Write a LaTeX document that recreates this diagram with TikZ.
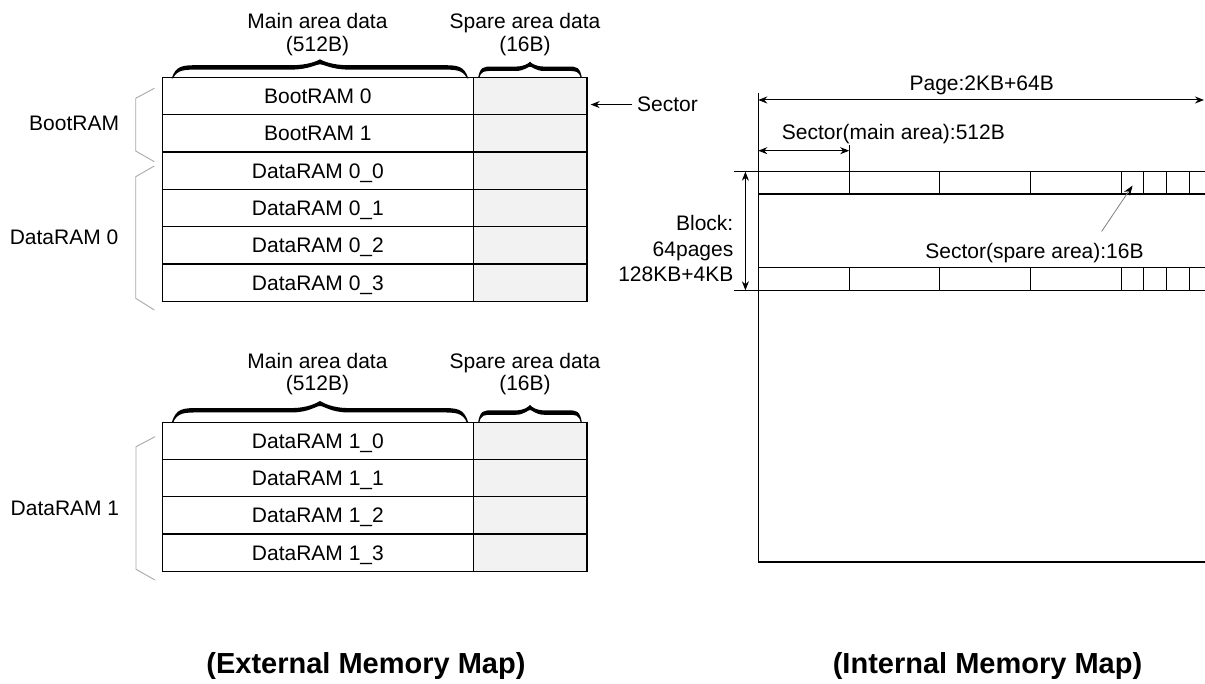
\documentclass[tikz,border=0pt]{standalone}
\usepackage{fontspec}
\setmainfont{Liberation Sans}
\usetikzlibrary{arrows.meta}
\definecolor{spare}{HTML}{F2F2F2}
\definecolor{bracketgray}{HTML}{A8A8A8}
\definecolor{pointergray}{HTML}{808080}
\newcommand\calbrace[5]{% x0 x1 ybase ytip curl
  \pgfmathsetmacro\bA{#1}\pgfmathsetmacro\bB{#2}\pgfmathsetmacro\bM{(#1+#2)/2}
  \pgfmathsetmacro\bY{#3}\pgfmathsetmacro\bT{#4}\pgfmathsetmacro\bC{#5}
  \pgfmathsetmacro\bS{#3-0.58*(#3-#4)}
  \fill (\bA,\bY)
   .. controls (\bA+0.15*\bC,\bS-2.2) and (\bA+0.4*\bC,\bS-2.2) .. (\bA+\bC,\bS-2.2)
   -- (\bM-\bC,\bS-2.2)
   .. controls (\bM-0.45*\bC,\bS-2.2) and (\bM-0.12*\bC,\bT+2) .. (\bM,\bT)
   .. controls (\bM+0.12*\bC,\bT+2) and (\bM+0.45*\bC,\bS-2.2) .. (\bM+\bC,\bS-2.2)
   -- (\bB-\bC,\bS-2.2)
   .. controls (\bB-0.4*\bC,\bS-2.2) and (\bB-0.15*\bC,\bS-2.2) .. (\bB,\bY)
   -- (\bB-1.2,\bY)
   .. controls (\bB-0.2*\bC,\bS+2.2) and (\bB-0.45*\bC,\bS+2.2) .. (\bB-\bC,\bS+2.2)
   -- (\bM+\bC,\bS+2.2)
   .. controls (\bM+0.4*\bC,\bS+2.2) and (\bM+0.1*\bC,\bT+4.5) .. (\bM,\bT+5)
   .. controls (\bM-0.1*\bC,\bT+4.5) and (\bM-0.4*\bC,\bS+2.2) .. (\bM-\bC,\bS+2.2)
   -- (\bA+\bC,\bS+2.2)
   .. controls (\bA+0.45*\bC,\bS+2.2) and (\bA+0.2*\bC,\bS+2.2) .. (\bA+1.2,\bY)
   -- cycle;}
\begin{document}
\begin{tikzpicture}[x=1pt,y=-1pt,
  every node/.style={inner sep=0pt, font=\fontsize{21}{22.5}\selectfont},
  cell/.style={draw=black, line width=1.3pt, text height=15pt, text depth=0pt},
  maincell/.style={cell, minimum width=310.8pt},
  sparecell/.style={cell, minimum width=113.7pt, fill=spare},
  grp/.style={draw=bracketgray, line width=0.9pt},
  hdr/.style={align=center, anchor=north},
  grplabel/.style={anchor=base east},
  title/.style={anchor=base, font=\fontsize{29}{32}\selectfont\bfseries},
  dim/.style={line width=1pt, {Stealth[length=9pt,width=7pt]}-{Stealth[length=9pt,width=7pt]}},
  rowline/.style={line width=1.2pt},
  tick/.style={line width=1pt}
]
\fill[white] (0,0) rectangle (1205,684);
\useasboundingbox (0,0) rectangle (1205,684);

% ---------- External memory map, table 1 ----------
\node[hdr] (h1main) at (317.5,13.3) {Main area data\\(512B)};
\node[hdr] (h1spare) at (525,13.3) {Spare area data\\(16B)};
\calbrace{171.7}{468.3}{78.5}{59.3}{28}
\calbrace{478}{582}{78.5}{61.7}{14}
\foreach \name/\txt [count=\i from 0] in {b0/BootRAM 0, b1/BootRAM 1, d00/DataRAM 0\_0, d01/DataRAM 0\_1, d02/DataRAM 0\_2, d03/DataRAM 0\_3}{
  \node[maincell, minimum height=37.33pt] (\name) at (317.9,{77.3+37.33*(\i+0.5)}) {\txt};
  \node[sparecell, minimum height=37.33pt] (s\name) at (530.15,{77.3+37.33*(\i+0.5)}) {};
}
\node[anchor=base west] (sec) at (637,111.8) {Sector};
\draw[line width=1pt,-{Stealth[length=9pt,width=7pt]}] ([xshift=-5pt]sec.west) -- ([xshift=3pt]sec.west -| sb0.east);

\draw[grp] (154.3,88.3) -- (135.7,98.3) -- (135.7,151) -- (154.3,161.7);
\draw[grp] (154.3,166) -- (135.7,176.7) -- (135.7,298.3) -- (154.3,310);
\node[grplabel] (lboot) at (119.3,130.8) {BootRAM};
\node[grplabel] (ld0) at (118.5,244.2) {DataRAM 0};

% ---------- External memory map, table 2 ----------
\node[hdr] (h2main) at (317.5,353) {Main area data\\(512B)};
\node[hdr] (h2spare) at (525,353) {Spare area data\\(16B)};
\calbrace{171.7}{468.3}{423}{401}{28}
\calbrace{478}{582}{423}{405}{14}
\foreach \name/\txt [count=\i from 0] in {d10/DataRAM 1\_0, d11/DataRAM 1\_1, d12/DataRAM 1\_2, d13/DataRAM 1\_3}{
  \node[maincell, minimum height=37.25pt] (\name) at (317.9,{422.3+37.25*(\i+0.5)}) {\txt};
  \node[sparecell, minimum height=37.25pt] (s\name) at (530.15,{422.3+37.25*(\i+0.5)}) {};
}
\draw[grp] (155,436.7) -- (136,446.7) -- (136,569.3) -- (155,580);
\node[grplabel] (ld1) at (119.4,515.2) {DataRAM 1};

% ---------- Internal memory map ----------
\draw[rowline] (758.3,93) -- (758.3,562) -- (1205,562);
\foreach \t/\b in {171.7/194, 267.3/290.3}{
  \draw[rowline] (758.3,\t) -- (1205,\t) (758.3,\b) -- (1205,\b);
  \foreach \x in {849.2,939.5,1030.2,1121.2,1143.6,1166.4,1189}
    \draw[line width=1pt] (\x,\t) -- (\x,\b);
}
\coordinate (pa1) at (758.3,100);
\coordinate (pa2) at (1204,100);
\draw[dim] (pa1) -- (pa2);
\node[anchor=base] (page) at (981.7,90.2) {Page:2KB+64B};

\coordinate (sa1) at (758.3,150.7);
\coordinate (sa2) at (849.2,150.7);
\draw[dim] (sa1) -- (sa2);
\draw[tick] (849.2,145) -- (849.2,171.7);
\node[anchor=base west] (secmain) at (781.7,139.2) {Sector(main area):512B};

\coordinate (ba1) at (745.4,171.7);
\coordinate (ba2) at (745.4,290.3);
\draw[dim] (ba1) -- (ba2);
\draw[tick] (734,171.7) -- (764,171.7);
\draw[tick] (734,290.3) -- (764,290.3);
\node[anchor=east, align=right, font=\fontsize{21}{25.5}\selectfont] (block) at (733.5,248.7) {Block:\\64pages\\128KB+4KB};

\node[anchor=base] (secspare) at (1034.5,258.5) {Sector(spare area):16B};
\coordinate (ptail) at (1101.6,231.5);
\coordinate (ptip) at (1132.6,185.5);
\draw[draw=pointergray, line width=0.8pt, -{Stealth[length=10pt,width=7pt,color=black]}] (ptail) -- (ptip);

% ---------- titles ----------
\node[title] (ext) at (366,673) {(External Memory Map)};
\node[title] (int) at (987.5,673) {(Internal Memory Map)};
\end{tikzpicture}
\end{document}
